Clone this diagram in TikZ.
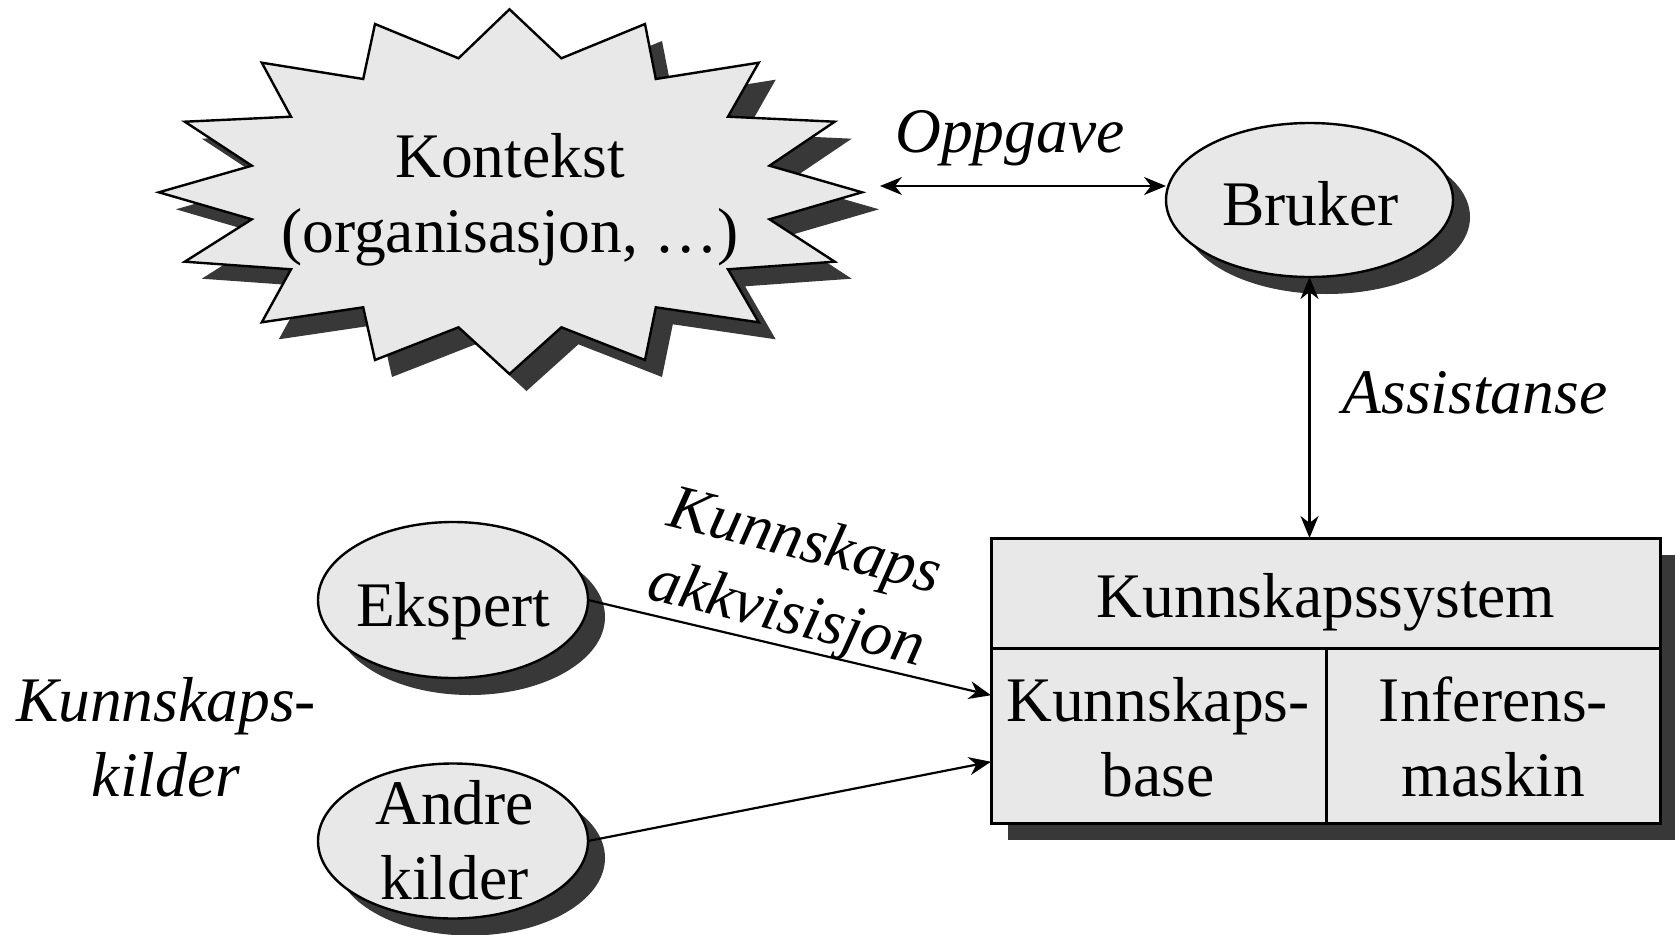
\documentclass[tikz,border=0pt]{standalone}
\usepackage{fontspec}
\setmainfont{Liberation Serif}
\usetikzlibrary{shapes.geometric,shadows,arrows.meta,calc}
\definecolor{panel}{HTML}{E8E8E8}
\definecolor{shade}{HTML}{383838}
\begin{document}
\begin{tikzpicture}[x=1pt,y=-1pt,
  >={Stealth[length=22pt,width=18pt,inset=7pt]},
  every node/.style={inner sep=0pt, outer sep=0pt},
  txt/.style={font=\fontsize{63.5}{75}\selectfont, align=center},
  itxt/.style={font=\fontsize{63.5}{75}\selectfont\itshape, align=center},
  shadowed/.style={drop shadow={shadow xshift=17pt, shadow yshift=-17pt, fill=shade, opacity=1}},
  blob/.style={ellipse, draw, line width=2.4pt, fill=panel, shadowed},
  cell/.style={rectangle, draw, line width=3pt, fill=panel, shadowed},
  conn/.style={line width=2.2pt}]

\fill[white] (0,0) rectangle (1675,934);
\useasboundingbox (0,0) rectangle (1675,934);

% context starburst
\path[draw, line width=2.4pt, fill=panel, shadowed]
  (509.5,9.3) -- (561.4,58.3) -- (645,24) -- (655.8,79) -- (758.7,62.7)
  -- (728,116.7) -- (834.7,121.7) -- (769.5,165.7) -- (862,192.3)
  -- (769.5,219.3) -- (834.7,261.7) -- (728,269.3) -- (758.7,322.3)
  -- (655.8,307.3) -- (645,360) -- (561.4,327.3) -- (509.5,374)
  -- (458.5,327.3) -- (375,360) -- (363.2,307.3) -- (261.8,322.3)
  -- (291,269.3) -- (184.8,261.7) -- (251.8,219.3) -- (158.9,192.3)
  -- (251.8,165.7) -- (184.8,121.7) -- (291,116.7) -- (261.8,62.7)
  -- (363.2,79) -- (375,24) -- (458.5,58.3) -- cycle;
\node[txt] (kontekst) at (510,200) {Kontekst\\(organisasjon, …)};
\coordinate (oppL) at (880,186);

% user, experts and other sources
\node[blob, minimum width=287pt, minimum height=154pt] (bruker) at (1309.5,200) {};
\node[txt, anchor=base] (brukertxt) at (1310.5,225) {Bruker};

\node[blob, minimum width=270pt, minimum height=156pt] (ekspert) at (453,600) {};
\node[txt, anchor=base] (eksperttxt) at (453,626) {Ekspert};

\node[blob, minimum width=270pt, minimum height=155pt] (andre) at (453,841) {};
\node[txt] (andretxt) at (454.5,840) {Andre\\kilder};

% knowledge system box
\node[cell, minimum width=669pt, minimum height=110pt] (ks) at (1325.5,593) {};
\node[cell, minimum width=335pt, minimum height=175pt] (kb) at (1158.5,735.5) {};
\node[cell, minimum width=334pt, minimum height=175pt] (ie) at (1493,735.5) {};
\node[txt, anchor=base] (kstxt) at (1326,617) {Kunnskapssystem};
\node[txt] (kbtxt) at (1158,737) {Kunnskaps-\\base};
\node[txt] (ietxt) at (1493.5,737) {Inferens-\\maskin};

% labels
\node[itxt, anchor=base] (oppgave) at (1010,152) {Oppgave};
\node[itxt, anchor=base] (assistanse) at (1475,413) {Assistanse};
\node[itxt] (kilder) at (166,737) {Kunnskaps-\\kilder};
\node[itxt, rotate=-14] (akkv) at (795,581) {Kunnskaps\\akkvisisjon};

% connectors
\draw[conn, <->] (oppL) -- (oppL -| bruker.west);
\draw[conn, <->] (bruker.south) -- (bruker.south |- ks.north);
\draw[conn, ->] (ekspert.east) -- ($(kb.north west)!0.27!(kb.south west)$);
\draw[conn, ->] (andre.east) -- ($(kb.north west)!0.65!(kb.south west)$);
\end{tikzpicture}
\end{document}
